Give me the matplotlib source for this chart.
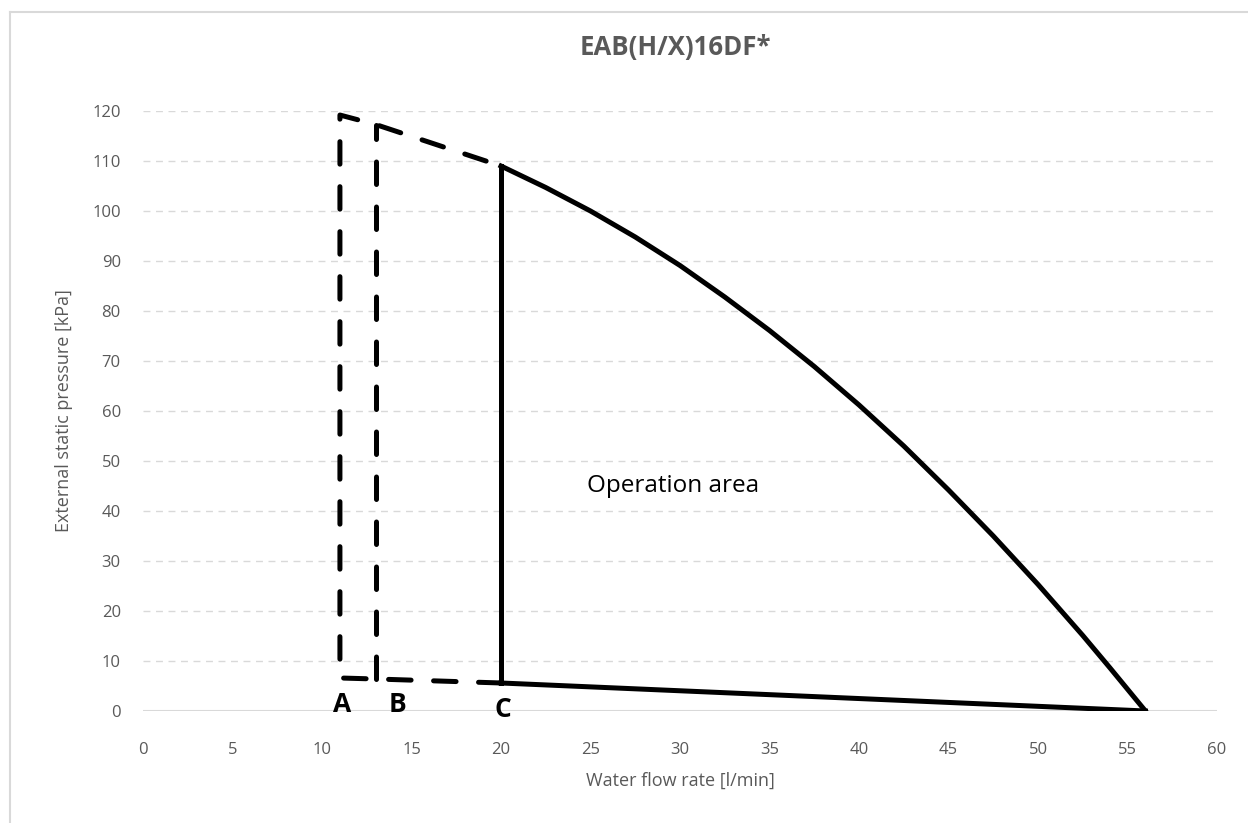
import numpy as np
import matplotlib.pyplot as plt
from matplotlib.lines import Line2D

plt.rcParams['font.family'] = ['Open Sans', 'DejaVu Sans']

# operation area outline (solid), upper curve
curve_x = [20, 22.5, 25, 27.5, 30, 32.5, 35, 37.5, 40, 42.5, 45, 47.5, 50, 52.5, 54, 56]
curve_y = [109, 104.7, 100, 94.8, 89.1, 82.8, 76.1, 68.9, 61.2, 53, 44.2, 35, 25.3, 15.1, 8.7, 0]
bottom_x = [56, 20]
bottom_y = [0, 5.6]
left_x = [20, 20]
left_y = [5.6, 109]

# extended limits A and B (dashed)
a_x = [20, 13, 11, 11, 13, 20]
a_y = [5.6, 6.4, 6.6, 119.2, 117.3, 109]
b_x = [13, 13]
b_y = [6.4, 117.3]

labels = ['A', 'B', 'C']
label_x = [11.1, 14.2, 20.1]
label_y = [1.2, 1.2, 0.2]

grey = '#595959'

fig = plt.figure(figsize=(12.48, 8.23), dpi=100)
ax = fig.add_axes([0.1146, 0.1361, 0.8606, 0.729])

# chart frame (only the top and left edges are in the picture)
fig.add_artist(Line2D([10/1248, 10/1248], [0, 1 - 12/823], color='#d9d9d9', lw=1.5, transform=fig.transFigure))
fig.add_artist(Line2D([10/1248, 1], [1 - 12/823, 1 - 12/823], color='#d9d9d9', lw=1.5, transform=fig.transFigure))

for yv in range(10, 121, 10):
    ax.axhline(yv, color='#d9d9d9', lw=1, ls=(0, (5, 4)), zorder=0)
ax.axhline(0, color='#d9d9d9', lw=1.5, zorder=0)

ax.plot(curve_x, curve_y, color='black', lw=3.6, solid_joinstyle='round')
ax.plot(bottom_x, bottom_y, color='black', lw=3.6)
ax.plot(left_x, left_y, color='black', lw=3.6)
ax.plot(a_x, a_y, color='black', lw=3.6, ls=(0, (4.5, 4.5)), dash_capstyle='round')
ax.plot(b_x, b_y, color='black', lw=3.6, ls=(0, (4.5, 4.5)), dash_capstyle='round')

for lab, lx, ly in zip(labels, label_x, label_y):
    ax.text(lx, ly, lab, fontsize=19, fontweight='bold', ha='center', va='center', color='black')

ax.text(24.8, 45, 'Operation area', fontsize=17.5, ha='left', va='center', color='black')

ax.set_xlim(0, 60)
ax.set_ylim(0, 120)
ax.set_xticks(range(0, 61, 5))
ax.set_yticks(range(0, 121, 10))
ax.tick_params(length=0, labelsize=12, labelcolor=grey)
ax.tick_params(axis='x', pad=22)
ax.tick_params(axis='y', pad=16)
for s in ax.spines.values():
    s.set_visible(False)
ax.set_xlabel('Water flow rate [l/min]', fontsize=13, color=grey, labelpad=10)
ax.set_ylabel('External static pressure [kPa]', fontsize=13, color=grey, labelpad=14)
fig.text(0.541, 1 - 47/823, 'EAB(H/X)16DF*', fontsize=18.5, fontweight='bold',
         color=grey, ha='center', va='center')

fig.savefig('out.png', dpi=100)
